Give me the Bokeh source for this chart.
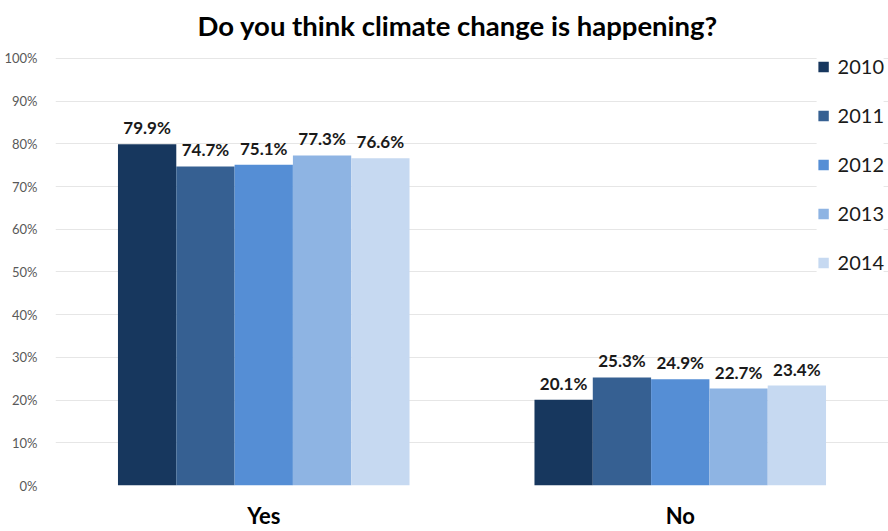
from bokeh.plotting import figure
from bokeh.models import (ColumnDataSource, FactorRange, Range1d, Legend, LegendItem,
                          FixedTicker, PrintfTickFormatter)
from bokeh.transform import dodge
from bokeh.core.properties import value
from bokeh.embed import file_html
from bokeh.resources import INLINE

# Survey answers and the share of respondents per year (percent)
answers = ["Yes", "No"]
years = ["2010", "2011", "2012", "2013", "2014"]
share_2010 = [79.9, 20.1]
share_2011 = [74.7, 25.3]
share_2012 = [75.1, 24.9]
share_2013 = [77.3, 22.7]
share_2014 = [76.6, 23.4]
y_ticks = [0, 10, 20, 30, 40, 50, 60, 70, 80, 90, 100]
title_text = "Do you think climate change is happening?"

palette = ["#17375E", "#366092", "#558ED5", "#8EB4E3", "#C6D9F1"]
FONT = "Lato"

shares = [share_2010, share_2011, share_2012, share_2013, share_2014]
data = {"answer": answers}
for yr, vals in zip(years, shares):
    data[yr] = vals
    data[yr + "_label"] = [f"{v:.1f}%" for v in vals]
source = ColumnDataSource(data)

p = figure(
    width=888, height=531,
    x_range=FactorRange(*answers, range_padding=0),
    y_range=Range1d(0, 101.86),
    toolbar_location=None, output_backend="svg",
    min_border_left=55, min_border_right=0, min_border_top=50, min_border_bottom=44,
    outline_line_color=None,
)

p.title.text = title_text
p.title.text_font = FONT
p.title.text_font_size = "27.5px"
p.title.text_font_style = "bold"
p.title.text_color = "#000000"
p.title.align = "left"
p.title.offset = 142
p.title.vertical_align = "top"
p.title.standoff = 13

bar_w = 0.14
offsets = [-2 * bar_w, -bar_w, 0, bar_w, 2 * bar_w]
items = []
for yr, off, col in zip(years, offsets, palette):
    xpos = dodge("answer", off, range=p.x_range)
    r = p.vbar(x=xpos, top=yr, width=bar_w, source=source,
               fill_color=col, line_color=None)
    items.append(LegendItem(label=yr, renderers=[r]))
    p.text(x=xpos, y=yr, text=yr + "_label", source=source,
           text_align="center", text_baseline="bottom", y_offset=-6,
           text_font=value(FONT), text_font_style="bold",
           text_font_size="17px", text_color="#1a1a1a")

legend = Legend(items=items, location="top_right", margin=4, padding=6,
                label_text_font=FONT, label_text_font_size="20px",
                label_text_color="#1a1a1a",
                glyph_width=13, glyph_height=13, label_standoff=8,
                spacing=25, border_line_color=None,
                background_fill_color="white", background_fill_alpha=1.0)
p.add_layout(legend)

p.yaxis.ticker = FixedTicker(ticks=y_ticks)
p.yaxis.formatter = PrintfTickFormatter(format="%d%%")
p.yaxis.major_label_text_font = FONT
p.yaxis.major_label_text_font_size = "13px"
p.yaxis.major_label_text_color = "#595959"
p.yaxis.axis_line_color = None
p.yaxis.major_tick_line_color = None
p.yaxis.minor_tick_line_color = None
p.yaxis.major_label_standoff = 12

p.xaxis.major_label_text_font = FONT
p.xaxis.major_label_text_font_size = "22px"
p.xaxis.major_label_text_font_style = "bold"
p.xaxis.major_label_text_color = "#000000"
p.xaxis.axis_line_color = None
p.xaxis.major_tick_line_color = None
p.xaxis.minor_tick_line_color = None
p.xaxis.major_label_standoff = 10

p.xgrid.grid_line_color = None
p.ygrid.grid_line_color = "#E6E6E6"
p.ygrid.grid_line_width = 1

open("out.html", "w").write(file_html(p, INLINE))
